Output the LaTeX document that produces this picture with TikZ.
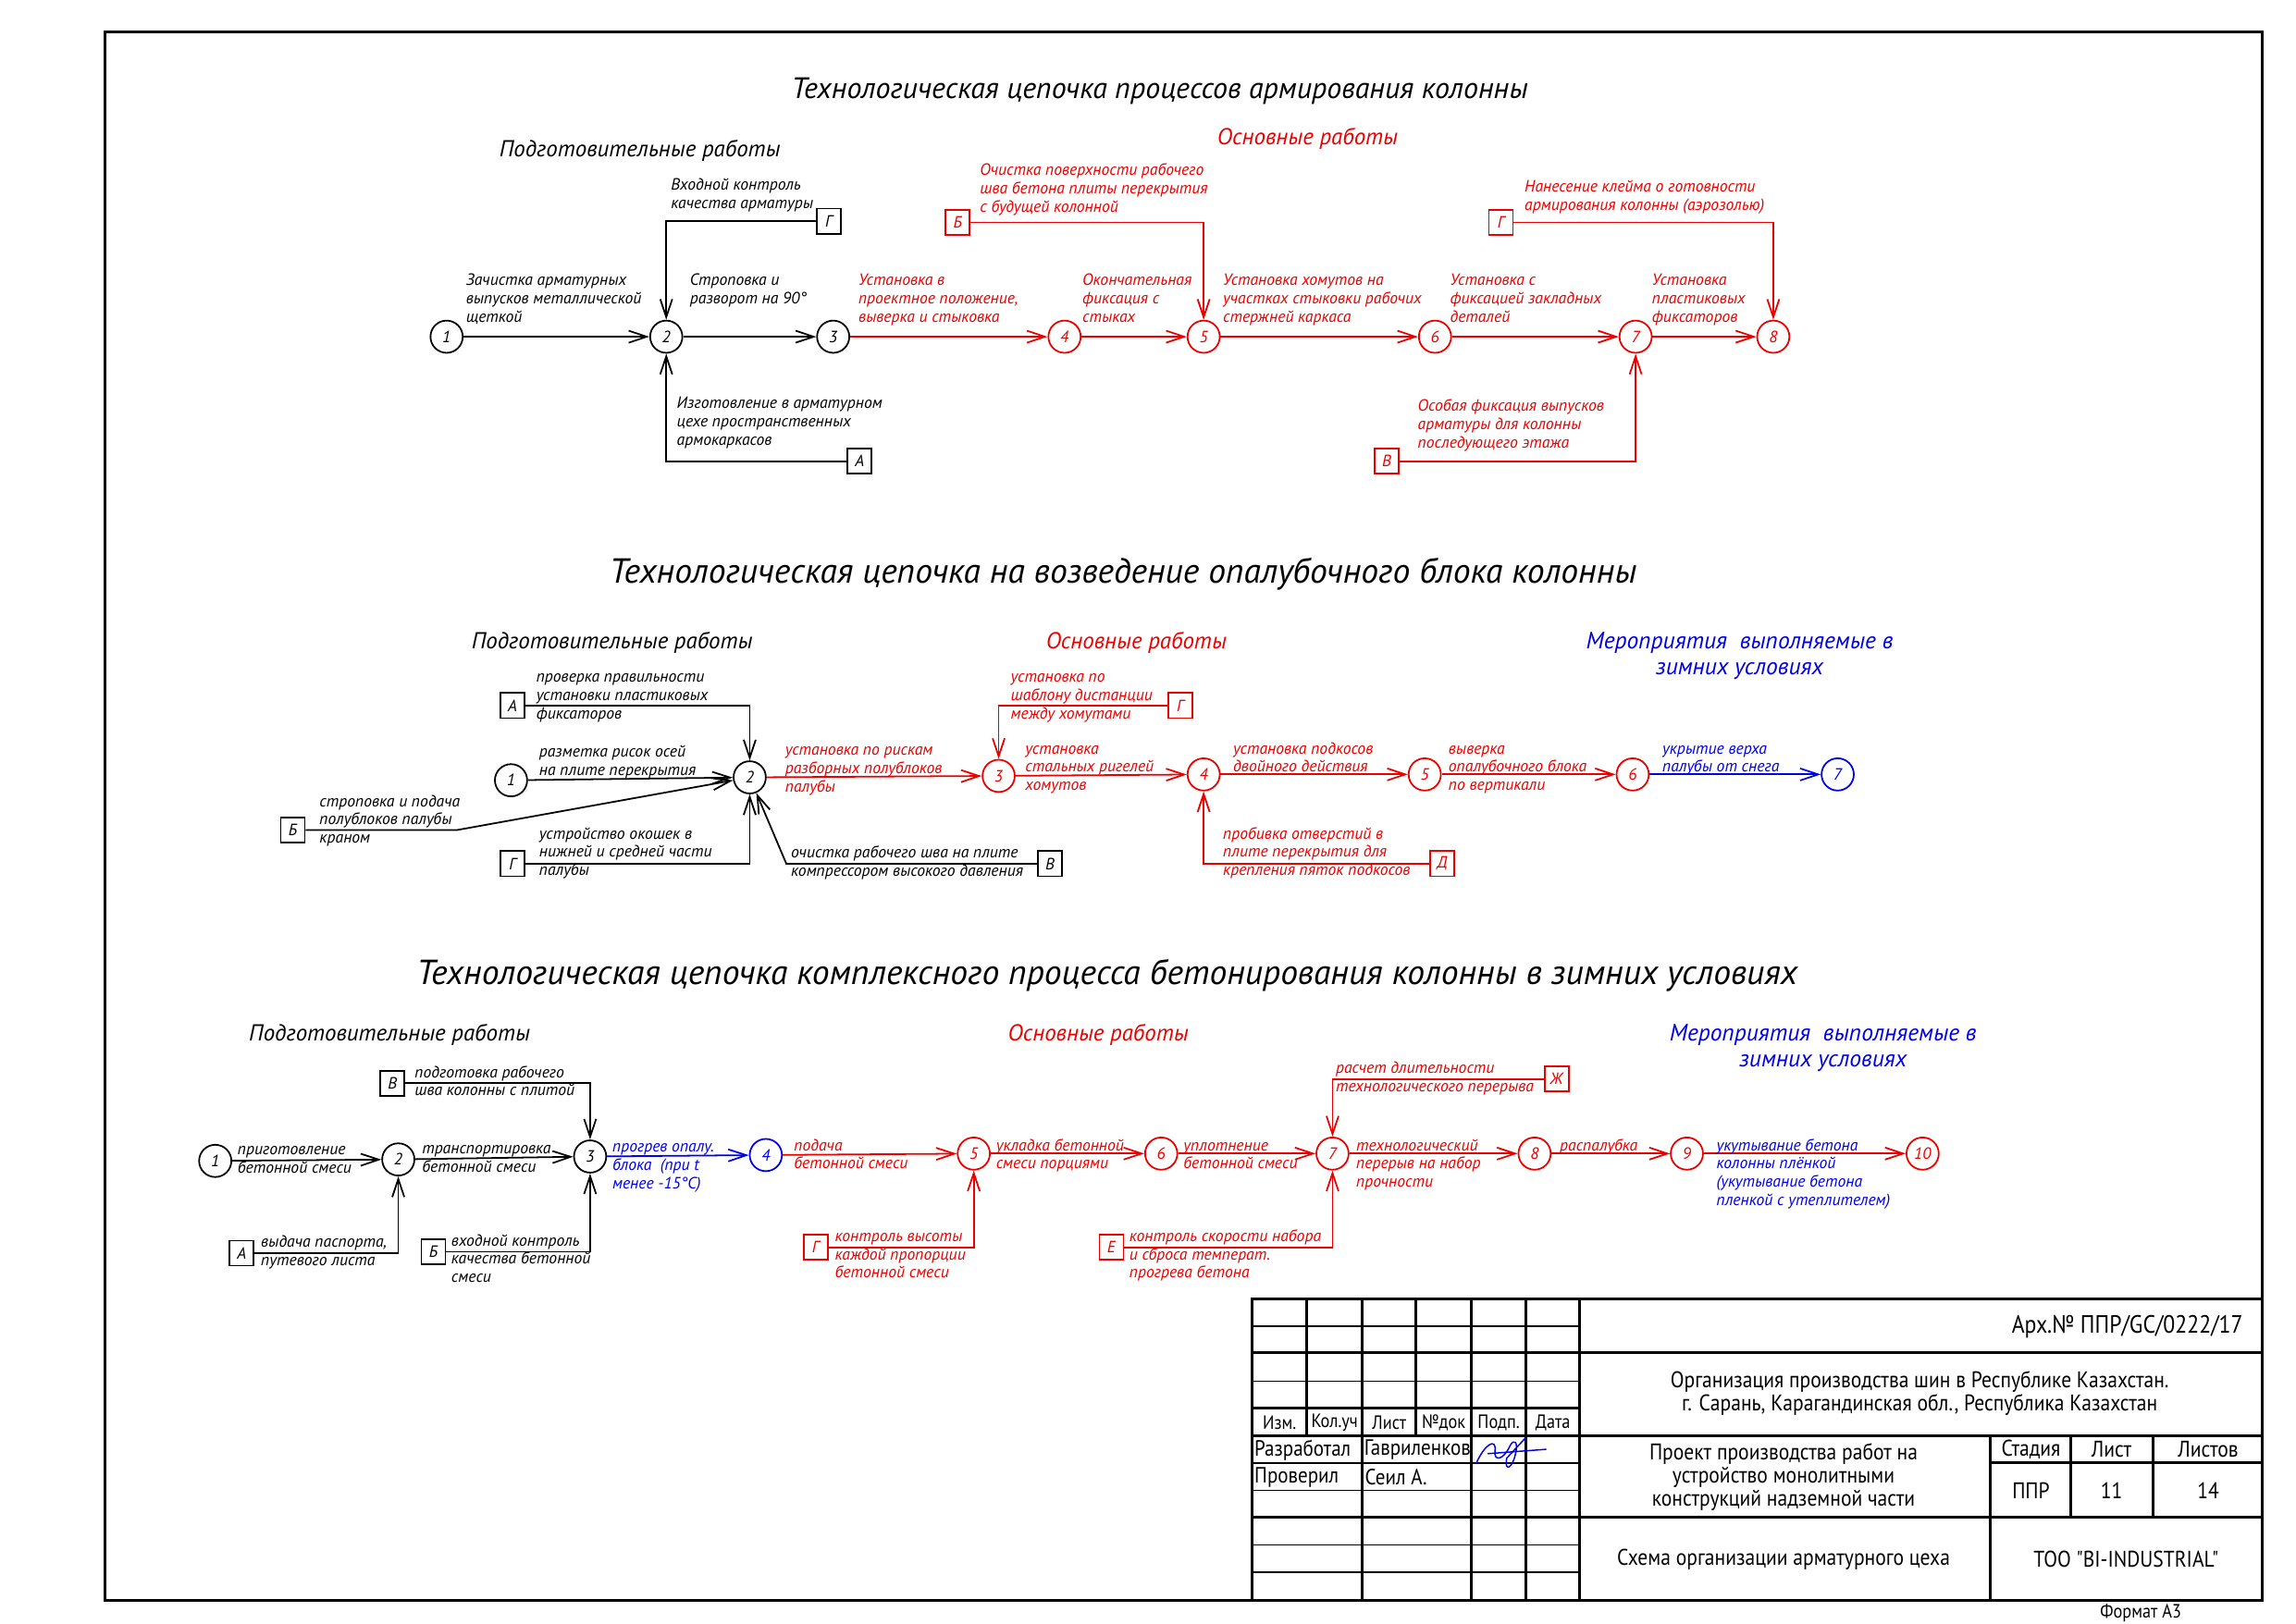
\documentclass[tikz,border=0pt]{standalone}
\usepackage{fontspec}
\setmainfont{PT Sans}
\newfontfamily\tbfont{PT Sans}[FakeStretch=0.88]
\usetikzlibrary{arrows.meta}
\definecolor{cred}{RGB}{235,0,0}
\definecolor{cblue}{RGB}{0,0,230}
\newcommand\lab[1]{\begin{tabular}[t]{@{}l@{}}#1\end{tabular}}
\newcommand\clab[1]{\begin{tabular}[t]{@{}c@{}}#1\end{tabular}}
\newcommand\smf{\fontsize{8.5}{9.5}\selectfont\itshape}
\tikzset{
  lb/.style={anchor=base west, inner sep=0pt, font=\smf},
  nd/.style={circle, draw, minimum size=5.9mm, inner sep=0pt, line width=0.3mm, font=\smf},
  bx/.style={draw, minimum width=4.4mm, minimum height=4.6mm, inner sep=0pt, line width=0.3mm, font=\smf},
  ln/.style={line width=0.3mm},
  ar/.style={ln, -{Straight Barb[length=3.3mm,width=2.2mm]}},
  ttlA/.style={inner sep=0pt, font=\fontsize{15.4}{17}\selectfont\itshape},
  ttlB/.style={inner sep=0pt, font=\fontsize{18.1}{20}\selectfont\itshape},
  sub/.style={inner sep=0pt, font=\fontsize{12}{14}\selectfont\itshape},
  subw/.style={anchor=base, inner sep=0pt, font=\fontsize{12.3}{13.7}\selectfont\itshape},
  fr/.style={line width=0.5mm},
  thk/.style={line width=0.5mm},
  thn/.style={line width=0.25mm},
  tb/.style={inner sep=0pt, font=\fontsize{11.8}{12.2}\selectfont\tbfont},
  tbr/.style={inner sep=0pt, anchor=west, font=\fontsize{11.5}{12.2}\selectfont\tbfont},
  tbs/.style={inner sep=0pt, font=\fontsize{10}{12}\selectfont\tbfont},
}
\begin{document}
\begin{tikzpicture}[x=0.267857mm,y=-0.267857mm]
\useasboundingbox (0,0) rectangle (1568,1108.8);
\draw[fr] (72,22) rectangle (1545,1093);

% ================= TOP SECTION =================
\node[ttlA] (T1) at (792,62) {Технологическая цепочка процессов армирования колонны};
\node[sub] (T1p) at (437,103) {Подготовительные работы};
\node[sub, cred] (T1o) at (893,95) {Основные работы};

\node[nd] (a1) at (305,230) {1};
\node[nd] (a2) at (455,230) {2};
\node[nd] (a3) at (569,230) {3};
\node[nd, cred] (a4) at (727,230) {4};
\node[nd, cred] (a5) at (822,230) {5};
\node[nd, cred] (a6) at (980,230) {6};
\node[nd, cred] (a7) at (1117,230) {7};
\node[nd, cred] (a8) at (1211,230) {8};

\draw[ar] (a1) -- (a2);
\draw[ar] (a2) -- (a3);
\draw[ar, cred] (a3) -- (a4);
\draw[ar, cred] (a4) -- (a5);
\draw[ar, cred] (a5) -- (a6);
\draw[ar, cred] (a6) -- (a7);
\draw[ar, cred] (a7) -- (a8);

\node[bx] (aG1) at (566,151) {Г};
\node[bx] (aA) at (587,315) {А};
\node[bx, cred] (aB) at (654,152) {Б};
\node[bx, cred] (aG2) at (1025,152) {Г};
\node[bx, cred] (aV) at (947,315) {В};

\draw[ar] (aG1.west) -| (a2);
\draw[ar] (aA.west) -| (a2);
\draw[ar, cred] (aB.east) -| (a5);
\draw[ar, cred] (aG2.east) -| (a8);
\draw[ar, cred] (aV.east) -| (a7);

\node[lb] (la12) at (318,195) {\lab{Зачистка арматурных\\выпусков металлической\\щеткой}};
\node[lb] (la23) at (471,195) {\lab{Строповка и\\разворот на 90°}};
\node[lb, cred] (la34) at (586,195) {\lab{Установка в\\проектное положение,\\выверка и стыковка}};
\node[lb, cred] (la45) at (739,195) {\lab{Окончательная\\фиксация с\\стыках}};
\node[lb, cred] (la56) at (835,195) {\lab{Установка хомутов на\\участках стыковки рабочих\\стержней каркаса}};
\node[lb, cred] (la67) at (990,195) {\lab{Установка с\\фиксацией закладных\\деталей}};
\node[lb, cred] (la78) at (1128,195) {\lab{Установка\\пластиковых\\фиксаторов}};
\node[lb] (laG1) at (458,130) {\lab{Входной контроль\\качества арматуры}};
\node[lb] (laA) at (462,279) {\lab{Изготовление в арматурном\\цехе пространственных\\армокаркасов}};
\node[lb, cred] (laB) at (669,120) {\lab{Очистка поверхности рабочего\\шва бетона плиты перекрытия\\с будущей колонной}};
\node[lb, cred] (laG2) at (1041,131) {\lab{Нанесение клейма о готовности\\армирования колонны (аэрозолью)}};
\node[lb, cred] (laV) at (968,281) {\lab{Особая фиксация выпусков\\арматуры для колонны\\последующего этажа}};

% ================= MIDDLE SECTION =================
\node[ttlB] (T2) at (767,392) {Технологическая цепочка на возведение опалубочного блока колонны};
\node[sub] (T2p) at (418,439) {Подготовительные работы};
\node[sub, cred] (T2o) at (776,439) {Основные работы};
\node[subw, cblue] (T2w) at (1188,443) {\clab{Мероприятия~~выполняемые в\\зимних условиях}};

\node[nd] (b1) at (349,533) {1};
\node[nd] (b2) at (512,531) {2};
\node[nd, cred] (b3) at (682,530) {3};
\node[nd, cred] (b4) at (822,529) {4};
\node[nd, cred] (b5) at (973,529) {5};
\node[nd, cred] (b6) at (1115,529) {6};
\node[nd, cblue] (b7) at (1255,529) {7};

\draw[ar] (b1) -- (b2);
\draw[ar, cred] (b2) -- (b3);
\draw[ar, cred] (b3) -- (b4);
\draw[ar, cred] (b4) -- (b5);
\draw[ar, cred] (b5) -- (b6);
\draw[ar, cblue] (b6) -- (b7);

\node[bx] (bA) at (350,482) {А};
\node[bx] (bB) at (200,567) {Б};
\node[bx] (bG1) at (350,590) {Г};
\node[bx] (bV) at (717,590) {В};
\node[bx, cred] (bG2) at (806,482) {Г};
\node[bx, cred] (bD) at (985,590) {Д};
\coordinate (bVc) at (537,590);
\coordinate (bBc) at (312,567);

\draw[ar] (bA.east) -| (b2);
\draw[ar] (bB.east) -- (bBc) -- (b2);
\draw[ar] (bG1.east) -| (b2);
\draw[ar] (bV.west) -- (bVc) -- (b2);
\draw[ar, cred] (bG2.west) -| (b3);
\draw[ar, cred] (bD.west) -| (b4);

\node[lb] (lb12) at (368,517) {\lab{разметка рисок осей\\на плите перекрытия}};
\node[lb, cred] (lb23) at (536,516) {\lab{установка по рискам\\разборных полублоков\\палубы}};
\node[lb, cred] (lb34) at (700,515) {\lab{установка\\стальных ригелей\\хомутов}};
\node[lb, cred] (lb45) at (842,515) {\lab{установка подкосов\\двойного действия}};
\node[lb, cred] (lb56) at (989,515) {\lab{выверка\\опалубочного блока\\по вертикали}};
\node[lb, cblue] (lb67) at (1135,515) {\lab{укрытие верха\\палубы от снега}};
\node[lb] (lbA) at (366,466) {\lab{проверка правильности\\установки пластиковых\\фиксаторов}};
\node[lb] (lbB) at (218,551) {\lab{строповка и подача\\полублоков палубы\\краном}};
\node[lb] (lbG1) at (368,573) {\lab{устройство окошек в\\нижней и средней части\\палубы}};
\node[lb] (lbV) at (540,586) {\lab{очистка рабочего шва на плите\\компрессором высокого давления}};
\node[lb, cred] (lbG2) at (690,466) {\lab{установка по\\шаблону дистанции\\между хомутами}};
\node[lb, cred] (lbD) at (835,573) {\lab{пробивка отверстий в\\плите перекрытия для\\крепления пяток подкосов}};

% ================= BOTTOM SECTION =================
\node[ttlB] (T3) at (756,666) {Технологическая цепочка комплексного процесса бетонирования колонны в зимних условиях};
\node[sub] (T3p) at (266,707) {Подготовительные работы};
\node[sub, cred] (T3o) at (750,707) {Основные работы};
\node[subw, cblue] (T3w) at (1245,711) {\clab{Мероприятия~~выполняемые в\\зимних условиях}};

\node[nd] (c1) at (147,793) {1};
\node[nd] (c2) at (272,792) {2};
\node[nd] (c3) at (403,790) {3};
\node[nd, cblue] (c4) at (523,789) {4};
\node[nd, cred] (c5) at (665,788) {5};
\node[nd, cred] (c6) at (793,788) {6};
\node[nd, cred] (c7) at (910,788) {7};
\node[nd, cred] (c8) at (1048,788) {8};
\node[nd, cred] (c9) at (1152,788) {9};
\node[nd, cred] (c10) at (1313,788) {10};

\draw[ar] (c1) -- (c2);
\draw[ar] (c2) -- (c3);
\draw[ar, cblue] (c3) -- (c4);
\draw[ar, cred] (c4) -- (c5);
\draw[ar, cred] (c5) -- (c6);
\draw[ar, cred] (c6) -- (c7);
\draw[ar, cred] (c7) -- (c8);
\draw[ar, cred] (c8) -- (c9);
\draw[ar, cred] (c9) -- (c10);

\node[bx] (cV) at (268,740) {В};
\node[bx] (cA) at (165,856) {А};
\node[bx] (cB) at (296,855) {Б};
\node[bx, cred] (cG) at (557,852) {Г};
\node[bx, cred] (cE) at (759,852) {Е};
\node[bx, cred] (cZh) at (1063,737) {Ж};

\draw[ar] (cV.east) -| (c3);
\draw[ar] (cA.east) -| (c2);
\draw[ar] (cB.east) -| (c3);
\draw[ar, cred] (cG.east) -| (c5);
\draw[ar, cred] (cE.east) -| (c7);
\draw[ar, cred] (cZh.west) -| (c7);

\node[lb] (lc12) at (162,789) {\lab{приготовление\\бетонной смеси}};
\node[lb] (lc23) at (288,788) {\lab{транспортировка\\бетонной смеси}};
\node[lb, cblue] (lc34) at (418,787) {\lab{прогрев опалу.\\блока~~(при t\\менее -15°С)}};
\node[lb, cred] (lc45) at (542,786) {\lab{подача\\бетонной смеси}};
\node[lb, cred] (lc56) at (680,786) {\lab{укладка бетонной\\смеси порциями}};
\node[lb, cred] (lc67) at (808,786) {\lab{уплотнение\\бетонной смеси}};
\node[lb, cred] (lc78) at (926,786) {\lab{технологический\\перерыв на набор\\прочности}};
\node[lb, cred] (lc89) at (1065,786) {распалубка};
\node[lb, cblue] (lc910) at (1172,786) {\lab{укутывание бетона\\колонны плёнкой\\(укутывание бетона\\пленкой с утеплителем)}};
\node[lb] (lcV) at (283,736) {\lab{подготовка рабочего\\шва колонны с плитой}};
\node[lb] (lcA) at (178,852) {\lab{выдача паспорта,\\путевого листа}};
\node[lb] (lcB) at (308,851) {\lab{входной контроль\\качества бетонной\\смеси}};
\node[lb, cred] (lcG) at (570,848) {\lab{контроль высоты\\каждой пропорции\\бетонной смеси}};
\node[lb, cred] (lcE) at (771,848) {\lab{контроль скорости набора\\и сброса температ.\\прогрева бетона}};
\node[lb, cred] (lcZh) at (912,733) {\lab{расчет длительности\\технологического перерыва}};

% ================= TITLE BLOCK =================
\fill[white] (855,887) rectangle (1545,1093);
\foreach \yy in {906,943.6,999.4,1018,1055.4,1074} \draw[thn] (855,\yy) -- (1078.7,\yy);
\foreach \yy in {924,961.6,981,1036.4} \draw[thk] (855,\yy) -- (1078.7,\yy);
\foreach \xx in {892.6,967.1} \draw[thk] (\xx,887) -- (\xx,981);
\foreach \xx in {930.3,1004.7,1042.3,1078.7} \draw[thk] (\xx,887) -- (\xx,1093);
\draw[thk] (1078.7,924) -- (1545,924);
\draw[thk] (1078.7,981) -- (1545,981);
\draw[thk] (1078.7,1036.4) -- (1545,1036.4);
\draw[thk] (1359,999.4) -- (1545,999.4);
\draw[thk] (1359,981) -- (1359,1093);
\draw[thk] (1414.4,981) -- (1414.4,1036.4);
\draw[thk] (1470.6,981) -- (1470.6,1036.4);
\draw[thk] (855,887) rectangle (1545,1093);

\node[tb, anchor=east, font=\fontsize{13}{15}\selectfont\tbfont] (tArh) at (1532,906) {Арх.№ ППР/GC/0222/17};
\node[tb, anchor=base] (tOrg) at (1311,948) {\clab{Организация производства шин в Республике Казахстан.\\г. Сарань, Карагандинская обл., Республика Казахстан}};
\node[tb, anchor=base] (tPr) at (1218,997) {\clab{Проект производства работ на\\устройство монолитными\\конструкций надземной части}};
\node[tb] (tSt) at (1387,990) {Стадия};
\node[tb] (tLi) at (1442,990) {Лист};
\node[tb] (tLs) at (1508,990) {Листов};
\node[tb] (tPPR) at (1387,1018) {ППР};
\node[tb] (t11) at (1442,1018) {11};
\node[tb] (t14) at (1508,1018) {14};
\node[tb] (tSh) at (1218,1065) {Схема организации арматурного цеха};
\node[tb] (tToo) at (1452,1065) {ТОО "BI-INDUSTRIAL"};

\node[tbs] (hIzm) at (873.8,972) {Изм.};
\node[tbs] (hKol) at (911.5,972) {Кол.уч};
\node[tbs] (hLi) at (948.7,972) {Лист};
\node[tbs] (hNd) at (985.9,972) {№док};
\node[tbs] (hPd) at (1023.5,972) {Подп.};
\node[tbs] (hDt) at (1060.5,972) {Дата};
\node[tbr] (rRaz) at (856.5,990.5) {Разработал};
\node[tbr] (rGav) at (931.5,990.5) {Гавриленков};
\node[tbr] (rPro) at (856.5,1009) {Проверил};
\node[tbr] (rSeil) at (932,1009) {Сеил А.};
\node[tbs] (fmt) at (1462,1102) {Формат А3};

% signature
\draw[cblue, line width=0.25mm] (1008,1000) .. controls (1014,986) and (1022,982) .. (1021,991)
  .. controls (1020,999) and (1027,997) .. (1031,988) .. controls (1034,982) and (1037,985) .. (1035,993)
  .. controls (1033,1003) and (1027,1006) .. (1029,996) -- (1042,982);
\draw[cblue, line width=0.25mm] (1016,993) -- (1056,990);
\end{tikzpicture}
\end{document}
